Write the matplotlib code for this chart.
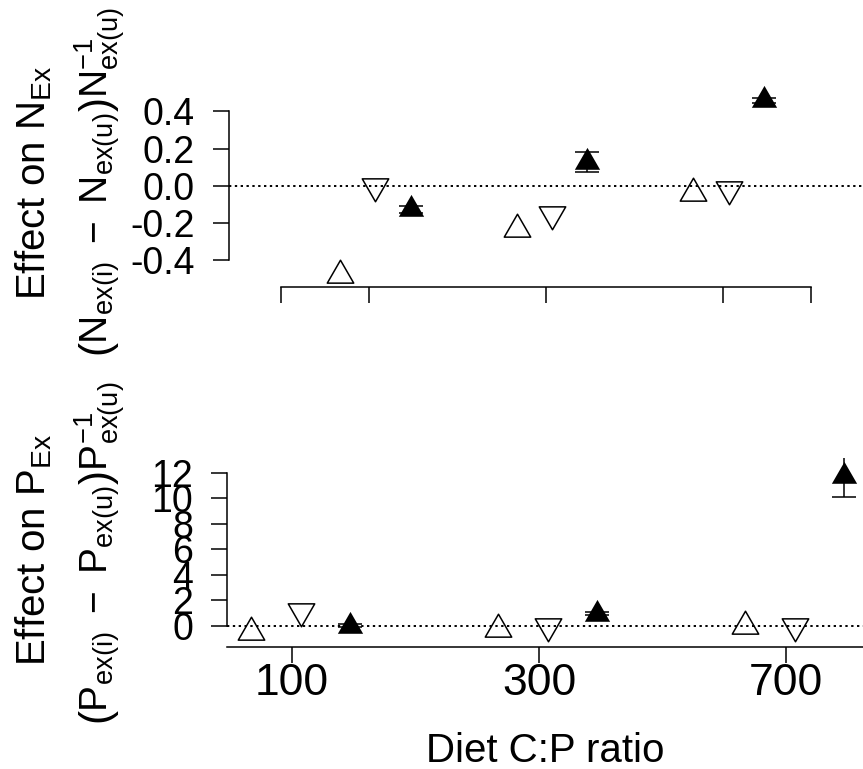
import matplotlib
matplotlib.use("Agg")
import matplotlib.pyplot as plt
from matplotlib.path import Path

plt.rcParams['font.family'] = ['Liberation Sans', 'DejaVu Sans']
plt.rcParams['mathtext.fontset'] = 'custom'
plt.rcParams['mathtext.rm'] = 'Liberation Sans'
plt.rcParams['mathtext.it'] = 'Liberation Sans:italic'
plt.rcParams['mathtext.bf'] = 'Liberation Sans:bold'

# diet C:P ratio groups
diets = ['100', '300', '700']
group_pos = [1, 2, 3]

# effect on N excretion
n_open_up = [-0.48, -0.23, -0.04]
n_open_down = [0.0, -0.15, -0.015]
n_filled = [-0.125, 0.13, 0.46]
n_filled_err = [0.02, 0.055, 0.015]

# effect on P excretion
p_open_up = [-0.46, -0.2, 0.0]
p_open_down = [1.2, 0.0, 0.0]
p_filled = [0.03, 0.98, 11.75]
p_filled_err = [0.1, 0.15, 1.6]

W, H = 863, 769


def box(l, t, r, b):
    # pixel box -> figure fraction
    return [l / W, 1 - b / H, (r - l) / W, (b - t) / H]


# R style triangles (pch 2 / 6 / 17)
c0, c1, c2 = 1.5551, 1.3468, 0.7776
tri_up = Path([(0, c0), (c1, -c2), (-c1, -c2), (0, c0)], closed=True)
tri_down = Path([(0, -c0), (c1, c2), (-c1, c2), (0, -c0)], closed=True)

ms = 22
lw = 1.1


def draw(ax, up, down, filled, err):
    x_up = [g - 0.165 for g in group_pos]
    x_down = [g + 0.035 for g in group_pos]
    x_fill = [g + 0.235 for g in group_pos]
    ax.axhline(0, color='black', lw=1.4, ls=(0, (1.2, 1.8)), zorder=1)
    ax.errorbar(x_fill, filled, yerr=err, fmt='none', ecolor='black',
                elinewidth=1.1, capsize=8.3, capthick=1.1, zorder=2)
    ax.plot(x_up, up, ls='none', marker=tri_up, ms=ms, mfc='none',
            mec='black', mew=lw, zorder=3)
    ax.plot(x_down, down, ls='none', marker=tri_down, ms=ms, mfc='none',
            mec='black', mew=lw, zorder=3)
    ax.plot(x_fill, filled, ls='none', marker=tri_up, ms=ms - 1, mfc='black',
            mec='black', mew=0, zorder=3)
    for s in ['top', 'right']:
        ax.spines[s].set_visible(False)
    for s in ['left', 'bottom']:
        ax.spines[s].set_linewidth(lw)
    ax.tick_params(direction='out', length=11.5, width=lw, labelsize=27)
    ax.tick_params(axis='y', pad=13)


fig = plt.figure(figsize=(W / 100, H / 100), dpi=100)

# top panel: N excretion
ax1 = fig.add_axes(box(229, 80, 863, 287))
draw(ax1, n_open_up, n_open_down, n_filled, n_filled_err)
ax1.set_xlim(0.208, 3.794)
ax1.set_ylim(-0.5423, 0.569)
ax1.spines['left'].set_bounds(-0.4, 0.4)
ax1.spines['bottom'].set_bounds(0.5, 3.5)
ax1.set_yticks([-0.4, -0.2, 0.0, 0.2, 0.4])
ax1.set_yticklabels(['-0.4', '-0.2', '0.0', '0.2', '0.4'])
ax1.set_xticks([0.5] + group_pos + [3.5])
ax1.set_xticklabels([''] * 5)

# bottom panel: P excretion
ax2 = fig.add_axes(box(227, 458, 863, 647))
draw(ax2, p_open_up, p_open_down, p_filled, p_filled_err)
ax2.set_xlim(0.7368, 3.3117)
ax2.set_ylim(-1.647, 13.176)
ax2.spines['left'].set_bounds(0, 12)
ax2.set_yticks(range(0, 13, 2))
ax2.set_yticklabels([str(v) for v in range(0, 13, 2)])
ax2.set_xticks(group_pos)
ax2.set_xticklabels(diets)
ax2.tick_params(axis='x', labelsize=32, pad=0)

# axis titles
fig.text(34 / W, 1 - 183 / H, r'Effect on N$_{\mathrm{Ex}}$', rotation=90,
         ha='center', va='center', fontsize=29)
fig.text(100 / W, 1 - 182 / H,
         r'$\left(\mathrm{N}_{\mathrm{ex(i)}}\ -\ \mathrm{N}_{\mathrm{ex(u)}}\right)\mathrm{N}_{\mathrm{ex(u)}}^{-1}$',
         rotation=90, ha='center', va='center', fontsize=28)
fig.text(34 / W, 1 - 550 / H, r'Effect on P$_{\mathrm{Ex}}$', rotation=90,
         ha='center', va='center', fontsize=29)
fig.text(100 / W, 1 - 553 / H,
         r'$\left(\mathrm{P}_{\mathrm{ex(i)}}\ -\ \mathrm{P}_{\mathrm{ex(u)}}\right)\mathrm{P}_{\mathrm{ex(u)}}^{-1}$',
         rotation=90, ha='center', va='center', fontsize=28)
fig.text(545 / W, 1 - 762 / H, 'Diet C:P ratio', ha='center', va='baseline',
         fontsize=29)

fig.savefig('out.png', dpi=100)
